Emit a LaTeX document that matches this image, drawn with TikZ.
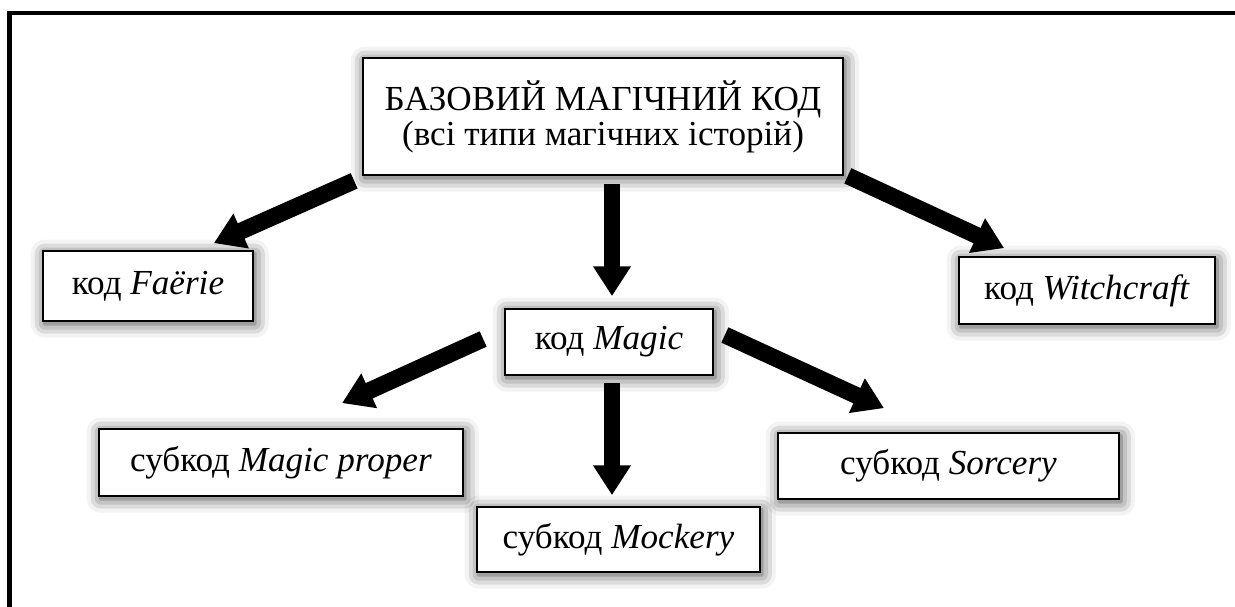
\documentclass[tikz,border=0pt]{standalone}
\usepackage{fontspec}
\setmainfont{Liberation Serif}
\usetikzlibrary{arrows.meta,shadows.blur}

\begin{document}
\begin{tikzpicture}[x=0.02cm,y=-0.02cm,
    codebox/.style={draw,line width=1pt,fill=white,align=center,inner sep=0pt,
      font=\fontsize{20}{20}\selectfont,
      blur shadow={shadow xshift=1pt,shadow yshift=-1.5pt,shadow blur radius=8pt,shadow opacity=75}},
    bigarrow/.style={line width=9.6pt,-{Triangle[length=17pt,width=20.5pt]}}]
      \useasboundingbox (0,0) rectangle (1235,607);
      \draw[line width=2.8pt] (9.5,607) -- (9.5,13) -- (1235,13);
      \draw
        (603,116.5) node[codebox,minimum width=9.6cm,minimum height=2.34cm] (base)
          {БАЗОВИЙ МАГІЧНИЙ КОД\\(всі типи магічних історій)}
        (148,286) node[codebox,minimum width=4.2cm,minimum height=1.4cm] (faerie)
          {код \textit{Faërie}}
        (1087,290.5) node[codebox,minimum width=5.12cm,minimum height=1.34cm] (witch)
          {код \textit{Witchcraft}}
        (609,342) node[codebox,minimum width=4.16cm,minimum height=1.32cm] (magic)
          {код \textit{Magic}}
        (281,462.5) node[codebox,minimum width=7.28cm,minimum height=1.34cm] (proper)
          {субкод \textit{Magic proper}}
        (618.5,539.5) node[codebox,minimum width=5.66cm,minimum height=1.3cm] (mockery)
          {субкод \textit{Mockery}}
        (948.5,466) node[codebox,minimum width=6.82cm,minimum height=1.32cm] (sorcery)
          {субкод \textit{Sorcery}};
      \begin{scope}[bigarrow]
        \draw ([shift={(-8,5)}]base.south west) to ([shift={(-40,-7)}]faerie.north east);
        \draw ([shift={(9,8)}]base.south) to ([shift={(3,-12)}]magic.north);
        \draw ([shift={(4,0)}]base.south east) to ([shift={(46,-8)}]witch.north west);
        \draw ([shift={(-21,-3)}]magic.west) to ([shift={(61,-25)}]proper.north);
        \draw ([shift={(3,7)}]magic.south) to ([shift={(-6.5,-11)}]mockery.north);
        \draw ([shift={(11,-7)}]magic.east) to ([shift={(-64.5,-24)}]sorcery.north);
      \end{scope}
    \end{tikzpicture}
\end{document}
